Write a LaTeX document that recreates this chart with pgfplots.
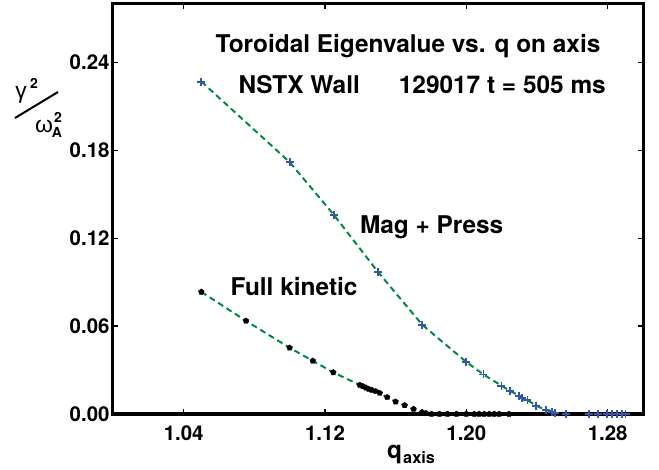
\documentclass[border=0pt]{standalone}
\usepackage{fontspec}
\setmainfont{TeX Gyre Heros}
\newfontfamily\greekfont{Liberation Sans}
\usepackage{pgfplots}
\pgfplotsset{compat=1.18}
\definecolor{dgreen}{HTML}{008844}
\definecolor{pblue}{HTML}{3355AA}
\tikzset{lbl/.style={anchor=base west, inner sep=0, font=\fontsize{24.5}{28}\selectfont\bfseries}}

\pgfplotstableread{
x y
1.0500 0.2270
1.1000 0.1720
1.1250 0.1360
1.1500 0.0970
1.1750 0.0610
1.2000 0.0355
1.2097 0.0270
1.2199 0.0193
1.2246 0.0159
1.2299 0.0125
1.2317 0.0111
1.2346 0.0095
1.2396 0.0057
1.2449 0.0027
1.2486 0.0016
1.2501 0.0005
}\magline
\pgfplotstableread{
x y
1.0500 0.2270
1.1000 0.1720
1.1250 0.1360
1.1500 0.0970
1.1750 0.0610
1.2000 0.0355
1.2097 0.0270
1.2199 0.0193
1.2246 0.0159
1.2299 0.0125
1.2317 0.0111
1.2346 0.0095
1.2396 0.0057
1.2449 0.0027
1.2486 0.0016
1.2501 0.0005
1.2563 0.0
1.2693 0.0
1.2744 0.0
1.2794 0.0
1.2823 0.0
1.2851 0.0
1.2879 0.0
1.2901 0.0
}\magpts
\pgfplotstableread{
x y
1.0500 0.0834
1.0753 0.0636
1.1000 0.0452
1.1131 0.0363
1.1247 0.0284
1.1397 0.0198
1.1414 0.0189
1.1431 0.0180
1.1448 0.0170
1.1465 0.0164
1.1487 0.0155
1.1510 0.0143
1.1552 0.0114
1.1600 0.0084
1.1651 0.0059
1.1701 0.0034
1.1750 0.0012
1.1772 0.0005
}\kinline
\pgfplotstableread{
x y
1.0500 0.0834
1.0753 0.0636
1.1000 0.0452
1.1131 0.0363
1.1247 0.0284
1.1397 0.0198
1.1414 0.0189
1.1431 0.0180
1.1448 0.0170
1.1465 0.0164
1.1487 0.0155
1.1510 0.0143
1.1552 0.0114
1.1600 0.0084
1.1651 0.0059
1.1701 0.0034
1.1750 0.0012
1.1772 0.0005
1.1803 0.0
1.1848 0.0
1.1893 0.0
1.1944 0.0
1.2000 0.0
1.2045 0.0
1.2073 0.0
1.2101 0.0
1.2130 0.0
1.2158 0.0
1.2186 0.0
1.2242 0.0
}\kinpts

\begin{document}
\begin{tikzpicture}
\begin{axis}[name=ax, at={(0,0)}, anchor=south west,
  scale only axis, width=530bp, height=410bp,
  xmin=1.00, xmax=1.30, ymin=0, ymax=0.28,
  xtick={1.04,1.12,1.20,1.28}, ytick={0,0.06,0.12,0.18,0.24},
  scaled ticks=false,
  tick align=inside, major tick length=5bp,
  every tick/.style={black, line width=1.5bp},
  axis line style={line width=3bp},
  tick label style={font=\fontsize{20.5}{24}\selectfont\bfseries},
  /pgf/number format/assume math mode=true,
  xticklabel style={/pgf/number format/fixed, /pgf/number format/fixed zerofill, /pgf/number format/precision=2, yshift=-8bp},
  yticklabel style={/pgf/number format/fixed, /pgf/number format/fixed zerofill, /pgf/number format/precision=2},
  axis on top=true, clip=false,
]
\addplot[only marks, mark=pentagon*, mark size=3bp, black] table {\kinpts};
\addplot[only marks, mark=+, mark size=4bp, pblue, line width=1.8bp] table {\magpts};
\addplot[dgreen, line width=2bp, dash pattern=on 6bp off 4bp] table {\kinline};
\addplot[dgreen, line width=2bp, dash pattern=on 6bp off 4bp] table {\magline};

\node[lbl] at (axis cs:1.058,0.2468) {Toroidal Eigenvalue vs. q on axis};
\node[lbl] at (axis cs:1.071,0.2191) {NSTX Wall};
\node[lbl] at (axis cs:1.1617,0.2191) {129017 t = 505 ms};
\node[lbl] at (axis cs:1.1397,0.1232) {Mag + Press};
\node[lbl] at (axis cs:1.0665,0.0807) {Full kinetic};
\end{axis}
% x label
\node[lbl] at (274bp,-44bp) {q};
\node[anchor=base west, inner sep=0, font=\fontsize{16.4}{19}\selectfont\bfseries] at (290bp,-49bp) {axis};
% y label
\node[inner sep=0, font=\fontsize{23}{26}\selectfont\greekfont] at (-92bp,319bp) {γ};
\node[inner sep=0, font=\fontsize{14}{16}\selectfont\bfseries] at (-79bp,331bp) {2};
\draw[line width=2bp] (-98bp,296bp) -- (-55bp,322bp);
\node[inner sep=0, font=\fontsize{23}{26}\selectfont\greekfont] at (-69bp,288bp) {ω};
\node[inner sep=0, font=\fontsize{14}{16}\selectfont\bfseries] at (-56bp,282bp) {A};
\node[inner sep=0, font=\fontsize{14}{16}\selectfont\bfseries] at (-55bp,297bp) {2};
\pgfresetboundingbox
\path[use as bounding box] (-113bp,-56bp) rectangle (546bp,414bp);
\end{tikzpicture}
\end{document}
